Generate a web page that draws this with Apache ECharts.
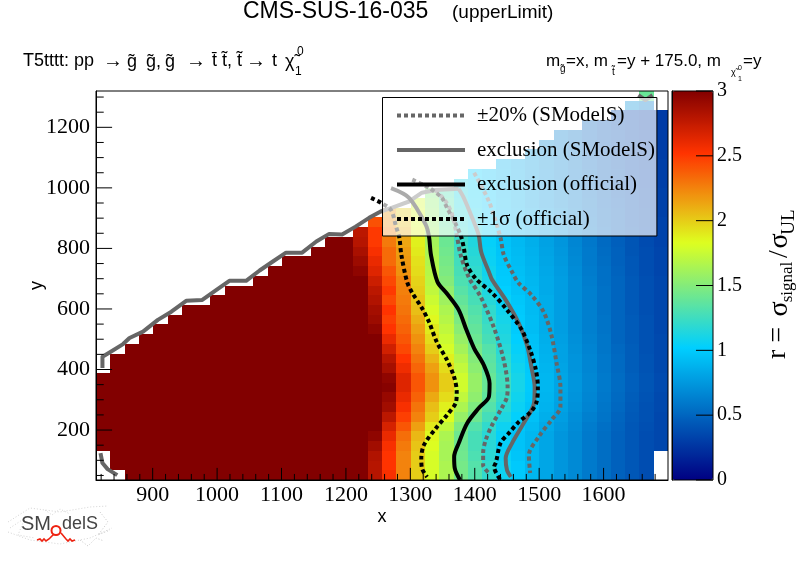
<!DOCTYPE html>
<html>
<head>
<meta charset="utf-8">
<script src="https://cdn.jsdelivr.net/npm/echarts@6/dist/echarts.min.js"></script>
<style>
html, body { margin: 0; padding: 0; background: #fff; }
#main { width: 796px; height: 572px; }
</style>
</head>
<body>
<div id="main"></div>
<script>
// r values per x bin, listed from the lowest y bin upwards (null = empty bin)
var col00 = [null,null,null,3,3,3,3,3,3,3,3];
var col01 = [null,3,3,3,3,3,3,3,3,3,3,3,3];
var col02 = [3,3,3,3,3,3,3,3,3,3,3,3,3,3];
var col03 = [3,3,3,3,3,3,3,3,3,3,3,3,3,3,3];
var col04 = [3,3,3,3,3,3,3,3,3,3,3,3,3,3,3,3];
var col05 = [3,3,3,3,3,3,3,3,3,3,3,3,3,3,3,3,3];
var col06 = [3,3,3,3,3,3,3,3,3,3,3,3,3,3,3,3,3,3];
var col07 = [3,3,3,3,3,3,3,3,3,3,3,3,3,3,3,3,3,3];
var col08 = [3,3,3,3,3,3,3,3,3,3,3,3,3,3,3,3,3,3,3];
var col09 = [3,3,3,3,3,3,3,3,3,3,3,3,3,3,3,3,3,3,3,3];
var col10 = [3,3,3,3,3,3,3,3,3,3,3,3,3,3,3,3,3,3,3,3];
var col11 = [3,3,3,3,3,3,3,3,3,3,3,3,3,3,3,3,3,3,3,3,3];
var col12 = [3,3,3,3,3,3,3,3,3,3,3,3,3,3,3,3,3,3,3,3,3,3];
var col13 = [3,3,3,3,3,3,3,3,3,3,3,3,3,3,3,3,3,3,3,3,3,3,3];
var col14 = [3,3,3,3,3,3,3,3,3,3,3,3,3,3,3,3,3,3,3,3,3,3,3];
var col15 = [3,3,3,3,3,3,3,3,3,3,3,3,3,3,3,3,3,3,3,3,3,3,3,3];
var col16 = [3,3,3,3,3,3,3,3,3,3,3,3,3,3,3,3,3,3,3,3,3,3,3,3,3];
var col17 = [3,3,3,3,3,3,3,3,3,3,3,3,3,3,3,3,3,3,3,3,3,3,3,3,3];
var col18 = [3,3,3,3,3,3,3,3,3,3,3,3,3,3,3,3,3,3,3,3,3,2.95,2.9,2.85,2.8,2.78];
var col19 = [2.8,2.8,2.82,2.88,2.95,3,3,3,3,3,3,3,3,3,3,2.95,2.9,2.87,2.82,2.78,2.72,2.65,2.6,2.55,2.5,2.5,2.42];
var col20 = [2.55,2.52,2.52,2.55,2.6,2.68,2.78,2.88,2.92,2.98,2.95,2.86,2.8,2.7,2.6,2.52,2.48,2.52,2.45,2.5,2.45,2.4,2.33,2.33,2.28,2.25,2.2,2.18];
var col21 = [2.25,2.25,2.25,2.28,2.32,2.4,2.48,2.55,2.6,2.65,2.65,2.58,2.52,2.45,2.4,2.36,2.33,2.3,2.28,2.26,2.25,2.2,2.18,2.16,2.13,2.1,2.05,2];
var col22 = [2,2,2,2.03,2.07,2.15,2.25,2.3,2.36,2.4,2.4,2.35,2.3,2.25,2.2,2.15,2.1,2.05,2.03,2,1.98,1.95,1.93,1.9,1.88,1.85,1.82,1.8,1.78];
var col23 = [1.8,1.8,1.8,1.83,1.85,1.9,2,2.05,2.12,2.2,2.2,2.15,2.08,2,1.95,1.9,1.85,1.8,1.76,1.72,1.7,1.68,1.66,1.64,1.62,1.6,1.58,1.56,1.54,1.5];
var col24 = [1.65,1.65,1.63,1.63,1.65,1.72,1.83,1.88,1.95,2,2,1.95,1.88,1.8,1.76,1.72,1.68,1.65,1.6,1.55,1.5,1.47,1.45,1.43,1.41,1.39,1.37,1.35,1.33,1.3];
var col25 = [1.45,1.45,1.43,1.42,1.42,1.48,1.57,1.65,1.72,1.78,1.78,1.73,1.68,1.62,1.57,1.52,1.47,1.42,1.38,1.34,1.3,1.28,1.26,1.24,1.22,1.2,1.18,1.16,1.14,1.12,1.1];
var col26 = [1.33,1.33,1.3,1.28,1.28,1.33,1.42,1.48,1.54,1.57,1.57,1.53,1.5,1.45,1.41,1.38,1.35,1.32,1.28,1.25,1.22,1.2,1.18,1.16,1.14,1.12,1.1,1.08,1.06,1.05,1.04,1.02];
var col27 = [1.2,1.2,1.18,1.17,1.17,1.2,1.27,1.33,1.37,1.4,1.4,1.37,1.35,1.33,1.28,1.25,1.22,1.2,1.16,1.13,1.1,1.08,1.06,1.05,1.04,1.03,1.02,1,0.99,0.98,0.97,0.95];
var col28 = [1.07,1.07,1.05,1.04,1.04,1.07,1.13,1.18,1.22,1.25,1.25,1.22,1.2,1.17,1.14,1.12,1.1,1.08,1.05,1.02,1,0.99,0.98,0.97,0.96,0.95,0.94,0.93,0.92,0.91,0.9,0.89,0.88];
var col29 = [0.99,0.99,0.97,0.96,0.96,0.98,1.03,1.06,1.08,1.1,1.1,1.08,1.06,1.04,1.02,1,1,0.99,0.98,0.96,0.95,0.94,0.93,0.92,0.91,0.9,0.89,0.88,0.87,0.86,0.85,0.84,0.83];
var col30 = [0.9,0.9,0.9,0.9,0.9,0.92,0.95,0.97,0.99,1,1,0.99,0.98,0.96,0.95,0.93,0.93,0.92,0.92,0.91,0.9,0.89,0.88,0.87,0.86,0.85,0.84,0.82,0.8,0.79,0.78,0.77,0.76,0.75];
var col31 = [0.82,0.82,0.82,0.82,0.82,0.84,0.86,0.88,0.89,0.9,0.9,0.89,0.88,0.87,0.86,0.85,0.85,0.85,0.85,0.84,0.84,0.83,0.82,0.81,0.8,0.79,0.78,0.76,0.74,0.73,0.72,0.71,0.7,0.69,0.68];
var col32 = [0.74,0.74,0.74,0.74,0.74,0.76,0.78,0.8,0.81,0.82,0.82,0.81,0.8,0.8,0.79,0.78,0.78,0.78,0.78,0.78,0.78,0.77,0.76,0.75,0.74,0.73,0.72,0.7,0.68,0.67,0.66,0.65,0.64,0.63,0.62,0.61];
var col33 = [0.68,0.68,0.68,0.68,0.68,0.69,0.7,0.72,0.73,0.74,0.74,0.73,0.73,0.72,0.71,0.7,0.7,0.7,0.7,0.7,0.7,0.69,0.68,0.67,0.66,0.65,0.64,0.63,0.62,0.61,0.6,0.59,0.58,0.57,0.56,0.55];
var col34 = [0.6,0.6,0.6,0.6,0.6,0.61,0.63,0.65,0.66,0.67,0.67,0.66,0.66,0.65,0.64,0.63,0.63,0.63,0.63,0.63,0.62,0.61,0.6,0.6,0.59,0.58,0.57,0.56,0.55,0.54,0.53,0.52,0.51,0.5,0.5,0.49,0.48];
var col35 = [0.54,0.54,0.54,0.54,0.54,0.55,0.57,0.58,0.59,0.6,0.6,0.59,0.59,0.58,0.58,0.57,0.57,0.56,0.56,0.56,0.55,0.55,0.54,0.53,0.52,0.51,0.5,0.5,0.49,0.48,0.47,0.46,0.45,0.45,0.44,0.43,0.42];
var col36 = [0.48,0.48,0.48,0.48,0.48,0.49,0.5,0.51,0.52,0.53,0.53,0.52,0.52,0.51,0.5,0.5,0.5,0.5,0.5,0.5,0.5,0.49,0.48,0.48,0.47,0.46,0.45,0.45,0.44,0.43,0.42,0.42,0.41,0.4,0.4,0.39,0.38,0.37];
var col37 = [0.43,0.43,0.43,0.43,0.43,0.43,0.44,0.45,0.46,0.47,0.47,0.46,0.46,0.46,0.45,0.45,0.45,0.44,0.44,0.44,0.44,0.43,0.43,0.42,0.42,0.41,0.4,0.4,0.39,0.39,0.38,0.37,0.37,0.36,0.36,0.35,0.35,0.34,0.7];
var col38 = [0.38,0.38,0.38,0.38,0.38,0.39,0.4,0.4,0.41,0.42,0.42,0.41,0.41,0.4,0.4,0.4,0.4,0.39,0.39,0.39,0.39,0.38,0.38,0.38,0.37,0.37,0.36,0.36,0.35,0.35,0.34,0.34,0.33,0.33,0.32,0.32,0.31,0.31,0.6,1.4];
var col39 = [null,null,null,0.35,0.35,0.35,0.35,0.36,0.36,0.37,0.37,0.36,0.36,0.36,0.36,0.35,0.35,0.35,0.35,0.35,0.35,0.34,0.34,0.34,0.33,0.33,0.33,0.32,0.32,0.32,0.31,0.31,0.31,0.3,0.3,0.3,0.29,0.29];
var columns = [col00,col01,col02,col03,col04,col05,col06,col07,col08,col09,col10,col11,col12,col13,col14,col15,col16,col17,col18,col19,
               col20,col21,col22,col23,col24,col25,col26,col27,col28,col29,col30,col31,col32,col33,col34,col35,col36,col37,col38,col39];

// exclusion curves, [x, y]
var smodelsStairs = [[822,405],[822,442],[833,456],[854,484],[864,504],[885,525],[908,564],[929,591],[952,627],[977,630],[999,663],[1019,693],[1045,693],[1066,727],[1086,756],[1107,786],[1132,786],[1154,823],[1174,848],[1194,846],[1215,872],[1236,901],[1254,922],[1272,935],[1298,955],[1318,984],[1339,993],[1375,997]];
var smodelsExclusion = [[1375,997],[1383,967],[1396,901],[1406,845],[1410,788],[1422,722],[1427,696],[1448,630],[1468,554],[1481,481],[1488,408],[1493,342],[1492,289],[1476,223],[1458,157],[1448,107],[1450,68],[1456,45]];
var smodelsExclusionLow = [[819,124],[822,91],[830,71],[845,51]];
var smodelsExclusionTop = [[1654,1306],[1665,1290],[1676,1306]];
var smodelsMinus20 = [[1339,993],[1355,955],[1365,911],[1372,845],[1378,779],[1391,703],[1409,641],[1430,537],[1445,431],[1451,342],[1450,309],[1442,273],[1427,217],[1417,167],[1413,124],[1413,84],[1422,58]];
var smodelsPlus20 = [[1399,1050],[1422,955],[1440,835],[1445,779],[1458,722],[1468,686],[1488,646],[1507,590],[1519,514],[1527,421],[1533,342],[1533,276],[1519,233],[1499,177],[1484,117],[1486,58]];
var officialExclusion = [[1270,999],[1298,967],[1324,878],[1329,839],[1332,779],[1342,690],[1357,650],[1375,597],[1387,531],[1399,470],[1414,415],[1423,354],[1422,310],[1406,272],[1388,222],[1375,156],[1368,112],[1369,73],[1377,35]];
var officialMinus1s = [[1239,967],[1255,950],[1270,927],[1278,871],[1283,835],[1286,779],[1295,689],[1303,653],[1318,603],[1329,557],[1341,491],[1357,431],[1368,375],[1372,326],[1371,293],[1357,250],[1340,207],[1321,150],[1317,107],[1318,74],[1326,45]];
var officialPlus1s = [[1303,1027],[1329,1000],[1349,967],[1357,934],[1371,878],[1379,838],[1383,802],[1388,745],[1402,699],[1427,653],[1450,597],[1473,531],[1487,458],[1495,398],[1498,342],[1496,293],[1487,260],[1468,226],[1453,190],[1440,157],[1433,94],[1430,78],[1440,35]];

// tick values
var xTicks = [900,1000,1100,1200,1300,1400,1500,1600];
var xMinorTicks = [820,840,860,880,920,940,960,980,1020,1040,1060,1080,1120,1140,1160,1180,1220,1240,1260,1280,1320,1340,1360,1380,1420,1440,1460,1480,1520,1540,1560,1580,1620,1640,1660,1680];
var yTicks = [200,400,600,800,1000,1200];
var yMinorTicks = [50,100,150,250,300,350,450,500,550,650,700,750,850,900,950,1050,1100,1150,1250,1300];
var rTicks = [0,0.5,1,1.5,2,2.5,3];

// same gradient table as the ROOT palette
var paletteStops = [0, 0.34, 0.61, 0.84, 1];
var paletteRed = [0, 0, 222, 255, 130];
var paletteGreen = [0, 207, 255, 51, 0];
var paletteBlue = [130, 255, 31, 0, 0];

var names = ['\u00b120% (SModelS)', 'exclusion (SModelS)', 'exclusion (official)', '\u00b11\u03c3 (official)'];

var xMin = 812, xMax = 1700, yMin = 35, yMax = 1320;

function buildPalette() {
    var out = [];
    for (var i = 0; i <= 150; i++) {
        var t = i / 150, k = 0;
        while (k < 3 && t > paletteStops[k + 1]) k++;
        var f = (t - paletteStops[k]) / (paletteStops[k + 1] - paletteStops[k]);
        var r = paletteRed[k] + f * (paletteRed[k + 1] - paletteRed[k]);
        var g = paletteGreen[k] + f * (paletteGreen[k + 1] - paletteGreen[k]);
        var b = paletteBlue[k] + f * (paletteBlue[k + 1] - paletteBlue[k]);
        out.push('rgb(' + Math.round(r) + ',' + Math.round(g) + ',' + Math.round(b) + ')');
    }
    return out;
}

var cells = [];
columns.forEach(function (col, i) {
    col.forEach(function (v, j) {
        if (v !== null) cells.push([i, j, v]);
    });
});

var binLabels = [];
for (var b = 0; b < 40; b++) binLabels.push(String(b));

// heatmap leaves seams between bins, so snap each bin to whole pixels
function renderCell(params, api) {
    var c = api.coord([api.value(0), api.value(1)]);
    var s = api.size([1, 1]);
    var x0 = Math.round(c[0] - s[0] / 2), x1 = Math.round(c[0] + s[0] / 2);
    var y0 = Math.round(c[1] - s[1] / 2), y1 = Math.round(c[1] + s[1] / 2);
    return {
        type: 'rect',
        shape: { x: x0, y: y0, width: x1 - x0, height: y1 - y0 },
        style: { fill: api.visual('color') }
    };
}

// axisTick does not show up on this chart, so ticks are short line series
function tickLine(from, to, axisIndex, z) {
    return {
        type: 'line',
        xAxisIndex: axisIndex,
        yAxisIndex: axisIndex,
        data: [from, to],
        symbol: 'none',
        clip: false,
        silent: true,
        animation: false,
        z: z,
        lineStyle: { color: '#000', width: 1 }
    };
}

function xTick(len) {
    return function (v) { return tickLine([v, yMin], [v, yMin + len], 1, 3); };
}
function yTick(len) {
    return function (v) { return tickLine([xMin, v], [xMin + len, v], 1, 3); };
}
function barTick(v) {
    return tickLine([1, v], [0.585, v], 2, 5);
}

function curve(name, data, color, dotted, smooth) {
    return {
        name: name,
        type: 'line',
        xAxisIndex: 1,
        yAxisIndex: 1,
        data: data,
        symbol: 'none',
        smooth: smooth ? 0.3 : false,
        animation: false,
        itemStyle: { color: color },
        lineStyle: { color: color, width: 4, type: dotted ? [4, 3] : 'solid', cap: 'butt', join: 'round' }
    };
}

function labelText(v) {
    return String(v);
}

function txt(text, x, y, size, family, extra) {
    var style = { text: text, x: x, y: y, fill: '#000', verticalAlign: 'middle', align: 'left',
        font: size + 'px "' + (family || 'Liberation Sans') + '"' };
    return Object.assign({ type: 'text', z: 20, style: style }, extra || {});
}

function rot(text, x, y, size) {
    var el = txt(text, 0, 0, size, 'Liberation Serif', { x: x, y: y, rotation: Math.PI / 2 });
    el.style.align = 'center';
    return el;
}

function logoStroke(points, color, width, dash) {
    return { type: 'polyline', z: 20, shape: { points: points },
        style: { stroke: color, lineWidth: width, fill: null, lineDash: dash || null } };
}

var texts = [
    txt('CMS-SUS-16-035', 243, 12, 23),
    txt('(upperLimit)', 452, 13, 19),
    txt('T5tttt: pp', 23, 61, 18),
    txt('\u2192', 103, 61, 20),
    txt('g\u0303', 127, 62, 18),
    txt('g\u0303,', 146, 62, 18),
    txt('g\u0303', 165, 62, 18),
    txt('\u2192', 186, 61, 20),
    txt('t\u0304', 212, 61, 18),
    txt('t\u0303,', 222, 61, 18),
    txt('t\u0303', 237, 61, 18),
    txt('\u2192', 246, 61, 20),
    txt('t', 272, 61, 18),
    txt('\u03c7\u0303', 285, 62, 18),
    txt('0', 297, 52, 12),
    txt('1', 295, 72, 12),
    txt('m', 546, 61, 17),
    txt('g\u0303', 560, 69, 10),
    txt('=x, m', 566, 61, 17),
    txt('t\u0303', 612, 72, 10),
    txt('=y + 175.0, m', 617, 61, 17),
    txt('\u03c7\u0303', 731, 73, 9),
    txt('0', 738, 68, 7),
    txt('1', 738, 79, 7),
    txt('=y', 743, 61, 17),
    rot('r =', 778, 343, 28),
    rot('\u03c3', 780, 309, 28),
    rot('signal', 788, 282, 17),
    rot('/', 780, 254, 28),
    rot('\u03c3', 780, 241, 28),
    rot('UL', 789, 222, 19)
];

// logo
var logo = [
    logoStroke([[8,522],[30,508],[60,512],[90,507],[108,506]], '#c8c8c8', 0.8, [1, 2]),
    logoStroke([[8,532],[30,540],[60,544],[90,538],[112,528]], '#c8c8c8', 0.8, [1, 2]),
    logoStroke([[10,528],[25,518],[18,535],[35,538]], '#c8c8c8', 0.8, [1, 2]),
    logoStroke([[100,512],[108,522],[98,535],[110,530]], '#b8b8b8', 0.8, [1, 2]),
    logoStroke([[45,510],[52,515],[60,509],[70,514]], '#c8c8c8', 0.8, [1, 2]),
    logoStroke([[80,540],[88,546],[96,538],[104,541]], '#b8b8b8', 0.8, [1, 2]),
    txt('SM', 21, 524, 20),
    txt('delS', 62, 524, 18),
    { type: 'circle', z: 21, shape: { cx: 56, cy: 530.5, r: 4.5 }, style: { stroke: '#ee2211', lineWidth: 2, fill: 'none' } },
    logoStroke([[37,540],[40,539],[42,541],[44,539],[46,541],[49,539],[54,534]], '#ee2211', 1.6),
    logoStroke([[61,533],[66,539],[68,541],[70,539],[72,541],[75,540]], '#ee2211', 1.6)
];
logo[6].style.fill = '#444';
logo[7].style.fill = '#444';

var option = {
    animation: false,
    textStyle: { fontFamily: 'Liberation Serif' },
    grid: [
        { left: 96, top: 91, width: 572, height: 389, show: true, z: 5, backgroundColor: 'transparent', borderColor: '#000', borderWidth: 1 },
        { left: 672, top: 91, width: 41, height: 389, show: true, z: 5, backgroundColor: 'transparent', borderColor: '#000', borderWidth: 1 }
    ],
    xAxis: [
        { type: 'category', gridIndex: 0, data: binLabels, show: false },
        {
            type: 'value', gridIndex: 0, position: 'bottom', min: xMin, max: xMax, z: 6,
            name: 'x', nameLocation: 'middle', nameGap: 28, nameMoveOverlap: false,
            nameTextStyle: { fontFamily: 'Liberation Sans', fontSize: 18, color: '#000' },
            axisLine: { show: true, onZero: false, lineStyle: { color: '#000' } },
            axisTick: { show: false },
            axisLabel: { customValues: xTicks, formatter: labelText, margin: 4, fontFamily: 'Liberation Serif', fontSize: 22, color: '#000' },
            splitLine: { show: false }
        },
        { type: 'value', gridIndex: 1, min: 0, max: 1, show: false }
    ],
    yAxis: [
        { type: 'category', gridIndex: 0, data: binLabels, show: false },
        {
            type: 'value', gridIndex: 0, position: 'left', min: yMin, max: yMax, z: 6,
            name: 'y', nameLocation: 'middle', nameGap: 50, nameMoveOverlap: false,
            nameTextStyle: { fontFamily: 'Liberation Sans', fontSize: 18, color: '#000' },
            axisLine: { show: true, onZero: false, lineStyle: { color: '#000' } },
            axisTick: { show: false },
            axisLabel: { customValues: yTicks, formatter: labelText, margin: 6, fontFamily: 'Liberation Serif', fontSize: 22, color: '#000' },
            splitLine: { show: false }
        },
        {
            type: 'value', gridIndex: 1, position: 'right', min: 0, max: 3, interval: 0.5, z: 6,
            axisLine: { show: true, lineStyle: { color: '#000' } },
            axisTick: { show: false },
            axisLabel: { margin: 4, fontFamily: 'Liberation Serif', fontSize: 20, color: '#000' },
            splitLine: { show: false }
        }
    ],
    visualMap: {
        type: 'continuous',
        seriesIndex: 0,
        dimension: 2,
        min: 0,
        max: 3,
        left: 672,
        top: 91,
        padding: 0,
        itemWidth: 41,
        itemHeight: 389,
        calculable: false,
        hoverLink: false,
        text: null,
        showLabel: false,
        inRange: { color: buildPalette() },
        textStyle: { color: 'transparent', fontSize: 1 }
    },
    legend: {
        orient: 'vertical',
        left: 382.5,
        top: 97.5,
        selectedMode: false,
        data: names,
        backgroundColor: 'rgba(255,255,255,0.67)',
        borderColor: '#000',
        borderWidth: 1,
        borderRadius: 0,
        padding: [7.5, 2, 6.5, 12.5],
        itemWidth: 68,
        itemHeight: 14,
        itemGap: 13.5,
        itemStyle: { color: 'transparent', borderColor: 'transparent', borderWidth: 0 },
        lineStyle: { width: 4 },
        textStyle: { fontFamily: 'Liberation Serif', fontSize: 21, color: '#000', padding: [0, 0, 0, 7] }
    },
    graphic: { elements: texts.concat(logo) },
    series: [
        { type: 'custom', xAxisIndex: 0, yAxisIndex: 0, data: cells, encode: { x: 0, y: 1 }, renderItem: renderCell, animation: false, silent: true },
        curve(names[0], smodelsMinus20, '#666666', true, true),
        curve(names[0], smodelsPlus20, '#666666', true, true),
        curve(names[1], smodelsStairs, '#666666', false, false),
        curve(names[1], smodelsExclusion, '#666666', false, true),
        curve(names[1], smodelsExclusionLow, '#666666', false, false),
        curve(names[1], smodelsExclusionTop, '#666666', false, false),
        curve(names[2], officialExclusion, '#000000', false, true),
        curve(names[3], officialMinus1s, '#000000', true, true),
        curve(names[3], officialPlus1s, '#000000', true, true)
    ].concat(
        xTicks.map(xTick(40)),
        xMinorTicks.map(xTick(20)),
        yTicks.map(yTick(25)),
        yMinorTicks.map(yTick(12)),
        rTicks.map(barTick)
    )
};

var myChart = echarts.init(document.getElementById('main'), null, { renderer: 'canvas' });
myChart.setOption(option);
</script>
</body>
</html>
